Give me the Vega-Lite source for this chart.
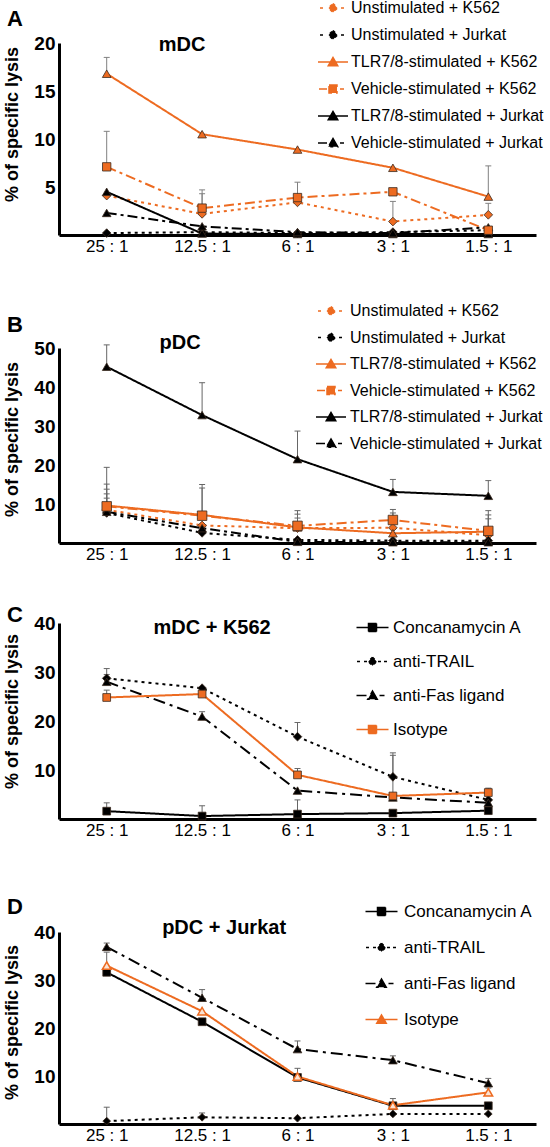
{
  "$schema": "https://vega.github.io/schema/vega-lite/v6.json",
  "padding": {"left": 3, "top": 0, "right": 0, "bottom": 0},
  "background": "white",
  "bounds": "flush",
  "spacing": 0,
  "resolve": {"scale": {"color": "independent", "strokeDash": "independent"}},
  "datasets": {
    "A": [
      {"r": "25 : 1", "s": "Unstimulated + K562", "v": 4.1},
      {"r": "12.5 : 1", "s": "Unstimulated + K562", "v": 2.2, "e": 4.3},
      {"r": "6 : 1", "s": "Unstimulated + K562", "v": 3.4},
      {"r": "3 : 1", "s": "Unstimulated + K562", "v": 1.4, "e": 3.5},
      {"r": "1.5 : 1", "s": "Unstimulated + K562", "v": 2.1, "e": 3.3},
      {"r": "25 : 1", "s": "Unstimulated + Jurkat", "v": 0.2},
      {"r": "12.5 : 1", "s": "Unstimulated + Jurkat", "v": 0.3},
      {"r": "6 : 1", "s": "Unstimulated + Jurkat", "v": 0.2},
      {"r": "3 : 1", "s": "Unstimulated + Jurkat", "v": 0.3},
      {"r": "1.5 : 1", "s": "Unstimulated + Jurkat", "v": 0.5},
      {"r": "25 : 1", "s": "TLR7/8-stimulated + K562", "v": 16.8, "e": 18.5},
      {"r": "12.5 : 1", "s": "TLR7/8-stimulated + K562", "v": 10.5},
      {"r": "6 : 1", "s": "TLR7/8-stimulated + K562", "v": 8.9},
      {"r": "3 : 1", "s": "TLR7/8-stimulated + K562", "v": 7.0},
      {"r": "1.5 : 1", "s": "TLR7/8-stimulated + K562", "v": 4.0, "e": 7.2},
      {"r": "25 : 1", "s": "Vehicle-stimulated + K562", "v": 7.1, "e": 10.8},
      {"r": "12.5 : 1", "s": "Vehicle-stimulated + K562", "v": 2.8, "e": 4.7},
      {"r": "6 : 1", "s": "Vehicle-stimulated + K562", "v": 3.9, "e": 5.5},
      {"r": "3 : 1", "s": "Vehicle-stimulated + K562", "v": 4.5},
      {"r": "1.5 : 1", "s": "Vehicle-stimulated + K562", "v": 0.5},
      {"r": "25 : 1", "s": "TLR7/8-stimulated + Jurkat", "v": 4.5},
      {"r": "12.5 : 1", "s": "TLR7/8-stimulated + Jurkat", "v": 0.15},
      {"r": "6 : 1", "s": "TLR7/8-stimulated + Jurkat", "v": 0.1},
      {"r": "3 : 1", "s": "TLR7/8-stimulated + Jurkat", "v": 0.1},
      {"r": "1.5 : 1", "s": "TLR7/8-stimulated + Jurkat", "v": 0.1},
      {"r": "25 : 1", "s": "Vehicle-stimulated + Jurkat", "v": 2.3},
      {"r": "12.5 : 1", "s": "Vehicle-stimulated + Jurkat", "v": 0.9},
      {"r": "6 : 1", "s": "Vehicle-stimulated + Jurkat", "v": 0.3},
      {"r": "3 : 1", "s": "Vehicle-stimulated + Jurkat", "v": 0.2},
      {"r": "1.5 : 1", "s": "Vehicle-stimulated + Jurkat", "v": 0.8}
    ],
    "B": [
      {"r": "25 : 1", "s": "Unstimulated + K562", "v": 8.5, "e": 13.8},
      {"r": "12.5 : 1", "s": "Unstimulated + K562", "v": 4.5},
      {"r": "6 : 1", "s": "Unstimulated + K562", "v": 3.8, "e": 6.4},
      {"r": "3 : 1", "s": "Unstimulated + K562", "v": 3.9, "e": 7.7},
      {"r": "1.5 : 1", "s": "Unstimulated + K562", "v": 2.0, "e": 6.2},
      {"r": "25 : 1", "s": "Unstimulated + Jurkat", "v": 7.7, "e": 12.6},
      {"r": "12.5 : 1", "s": "Unstimulated + Jurkat", "v": 2.6},
      {"r": "6 : 1", "s": "Unstimulated + Jurkat", "v": 0.8},
      {"r": "3 : 1", "s": "Unstimulated + Jurkat", "v": 0.6},
      {"r": "1.5 : 1", "s": "Unstimulated + Jurkat", "v": 0.6},
      {"r": "25 : 1", "s": "TLR7/8-stimulated + K562", "v": 9.6, "e": 15.1},
      {"r": "12.5 : 1", "s": "TLR7/8-stimulated + K562", "v": 7.2, "e": 15.0},
      {"r": "6 : 1", "s": "TLR7/8-stimulated + K562", "v": 4.0, "e": 7.4},
      {"r": "3 : 1", "s": "TLR7/8-stimulated + K562", "v": 2.5},
      {"r": "1.5 : 1", "s": "TLR7/8-stimulated + K562", "v": 2.9, "e": 7.2},
      {"r": "25 : 1", "s": "Vehicle-stimulated + K562", "v": 9.4, "e": 19.4},
      {"r": "12.5 : 1", "s": "Vehicle-stimulated + K562", "v": 7.0, "e": 14.1},
      {"r": "6 : 1", "s": "Vehicle-stimulated + K562", "v": 4.4, "e": 8.3},
      {"r": "3 : 1", "s": "Vehicle-stimulated + K562", "v": 5.9, "e": 8.6},
      {"r": "1.5 : 1", "s": "Vehicle-stimulated + K562", "v": 3.1, "e": 8.3},
      {"r": "25 : 1", "s": "TLR7/8-stimulated + Jurkat", "v": 45.2, "e": 50.8},
      {"r": "12.5 : 1", "s": "TLR7/8-stimulated + Jurkat", "v": 32.8, "e": 41.1},
      {"r": "6 : 1", "s": "TLR7/8-stimulated + Jurkat", "v": 21.5, "e": 28.7},
      {"r": "3 : 1", "s": "TLR7/8-stimulated + Jurkat", "v": 13.1, "e": 16.3},
      {"r": "1.5 : 1", "s": "TLR7/8-stimulated + Jurkat", "v": 12.1, "e": 16.0},
      {"r": "25 : 1", "s": "Vehicle-stimulated + Jurkat", "v": 8.0, "e": 11.5},
      {"r": "12.5 : 1", "s": "Vehicle-stimulated + Jurkat", "v": 3.8},
      {"r": "6 : 1", "s": "Vehicle-stimulated + Jurkat", "v": 0.3},
      {"r": "3 : 1", "s": "Vehicle-stimulated + Jurkat", "v": 0.2},
      {"r": "1.5 : 1", "s": "Vehicle-stimulated + Jurkat", "v": 0.2}
    ],
    "C": [
      {"r": "25 : 1", "s": "Concanamycin A", "v": 1.6, "e": 3.3},
      {"r": "12.5 : 1", "s": "Concanamycin A", "v": 0.6, "e": 2.7},
      {"r": "6 : 1", "s": "Concanamycin A", "v": 1.0, "e": 3.9},
      {"r": "3 : 1", "s": "Concanamycin A", "v": 1.2},
      {"r": "1.5 : 1", "s": "Concanamycin A", "v": 1.7},
      {"r": "25 : 1", "s": "anti-TRAIL", "v": 28.7, "e": 30.7},
      {"r": "12.5 : 1", "s": "anti-TRAIL", "v": 26.7},
      {"r": "6 : 1", "s": "anti-TRAIL", "v": 16.8, "e": 19.7},
      {"r": "3 : 1", "s": "anti-TRAIL", "v": 8.6, "e": 13.5},
      {"r": "1.5 : 1", "s": "anti-TRAIL", "v": 3.9},
      {"r": "25 : 1", "s": "anti-Fas ligand", "v": 28.0, "e": 29.5},
      {"r": "12.5 : 1", "s": "anti-Fas ligand", "v": 20.9, "e": 21.9},
      {"r": "6 : 1", "s": "anti-Fas ligand", "v": 5.8},
      {"r": "3 : 1", "s": "anti-Fas ligand", "v": 4.4, "e": 13.0},
      {"r": "1.5 : 1", "s": "anti-Fas ligand", "v": 3.3},
      {"r": "25 : 1", "s": "Isotype", "v": 24.8, "e": 26.3},
      {"r": "12.5 : 1", "s": "Isotype", "v": 25.5},
      {"r": "6 : 1", "s": "Isotype", "v": 9.0, "e": 10.3},
      {"r": "3 : 1", "s": "Isotype", "v": 4.7},
      {"r": "1.5 : 1", "s": "Isotype", "v": 5.4, "e": 6.3}
    ],
    "D": [
      {"r": "25 : 1", "s": "Concanamycin A", "v": 31.6},
      {"r": "12.5 : 1", "s": "Concanamycin A", "v": 21.3},
      {"r": "6 : 1", "s": "Concanamycin A", "v": 9.7},
      {"r": "3 : 1", "s": "Concanamycin A", "v": 3.8},
      {"r": "1.5 : 1", "s": "Concanamycin A", "v": 3.8},
      {"r": "25 : 1", "s": "anti-TRAIL", "v": 0.6, "e": 3.5},
      {"r": "12.5 : 1", "s": "anti-TRAIL", "v": 1.4, "e": 2.3},
      {"r": "6 : 1", "s": "anti-TRAIL", "v": 1.2},
      {"r": "3 : 1", "s": "anti-TRAIL", "v": 2.1},
      {"r": "1.5 : 1", "s": "anti-TRAIL", "v": 2.1},
      {"r": "25 : 1", "s": "anti-Fas ligand", "v": 36.9, "e": 37.7},
      {"r": "12.5 : 1", "s": "anti-Fas ligand", "v": 26.3, "e": 28.0},
      {"r": "6 : 1", "s": "anti-Fas ligand", "v": 15.6, "e": 17.3},
      {"r": "3 : 1", "s": "anti-Fas ligand", "v": 13.3, "e": 14.2},
      {"r": "1.5 : 1", "s": "anti-Fas ligand", "v": 8.5, "e": 9.5},
      {"r": "25 : 1", "s": "Isotype", "v": 33.0, "e": 35.8},
      {"r": "12.5 : 1", "s": "Isotype", "v": 23.5},
      {"r": "6 : 1", "s": "Isotype", "v": 9.9, "e": 11.6},
      {"r": "3 : 1", "s": "Isotype", "v": 3.9, "e": 5.3},
      {"r": "1.5 : 1", "s": "Isotype", "v": 6.6, "e": 7.5}
    ]
  },
  "vconcat": [
    {
      "width": 477, "height": 192,
      "title": {"text": "A", "dx": -52, "offset": -31},
      "data": {"name": "A"},
      "encoding": {
        "x": {"field": "r", "type": "ordinal", "title": null, "scale": {"type": "point", "padding": 0.5, "domain": ["25 : 1", "12.5 : 1", "6 : 1", "3 : 1", "1.5 : 1"]}},
        "y": {"field": "v", "type": "quantitative", "title": "% of specific lysis", "scale": {"domain": [0, 20], "nice": false}, "axis": {"values": [5, 10, 15, 20], "titleY": 81}}
      },
      "layer": [
        {"transform": [{"filter": "datum.e != null"}], "mark": {"type": "rule", "color": "#808080", "strokeWidth": 1}, "encoding": {"y2": {"field": "e"}}},
        {"transform": [{"filter": "datum.e != null"}], "mark": {"type": "tick", "color": "#808080", "size": 6, "thickness": 1, "opacity": 1}, "encoding": {"y": {"field": "e", "type": "quantitative"}}},
        {"mark": {"type": "line", "strokeWidth": 2}, "encoding": {
          "color": {"field": "s", "type": "nominal", "scale": {"domain": ["Unstimulated + K562", "Unstimulated + Jurkat", "TLR7/8-stimulated + K562", "Vehicle-stimulated + K562", "TLR7/8-stimulated + Jurkat", "Vehicle-stimulated + Jurkat"], "range": ["#ED6B21", "black", "#ED6B21", "#ED6B21", "black", "black"]},
            "legend": {"orient": "none", "legendX": 266, "legendY": -43, "title": null, "labelFontSize": 16, "labelOffset": 10, "rowPadding": 11, "labelLimit": 400, "symbolSize": 100,
              "encode": {"symbols": {"update": {
                "shape": {"signal": "['M-2.6,0H-1.6M1.6,0H2.6M0,-0.9L0.9,0L0,0.9L-0.9,0Z','M-2.6,0H-1.6M1.6,0H2.6M0,-0.9L0.9,0L0,0.9L-0.9,0Z','M-3,0H3M0,-0.9L0.95,0.75L-0.95,0.75Z','M-2.8,0H-1.2M1.4,0H2.2M-0.8,-0.8H0.8V0.8H-0.8Z','M-3,0H3M0,-0.9L0.95,0.75L-0.95,0.75Z','M-3,0H-1.2M1.4,0H2.2M0,-0.9L0.95,0.75L-0.95,0.75Z'][indexof(['Unstimulated + K562','Unstimulated + Jurkat','TLR7/8-stimulated + K562','Vehicle-stimulated + K562','TLR7/8-stimulated + Jurkat','Vehicle-stimulated + Jurkat'], datum.value)]"},
                "fill": {"signal": "['#ED6B21','black','#ED6B21','#ED6B21','black','black'][indexof(['Unstimulated + K562','Unstimulated + Jurkat','TLR7/8-stimulated + K562','Vehicle-stimulated + K562','TLR7/8-stimulated + Jurkat','Vehicle-stimulated + Jurkat'], datum.value)]"},
                "strokeDash": {"value": [1, 0]}, "strokeWidth": {"value": 1.5}, "size": {"value": 100}, "opacity": {"value": 1}}}}}},
          "strokeDash": {"field": "s", "type": "nominal", "legend": null, "scale": {"domain": ["Unstimulated + K562", "Unstimulated + Jurkat", "TLR7/8-stimulated + K562", "Vehicle-stimulated + K562", "TLR7/8-stimulated + Jurkat", "Vehicle-stimulated + Jurkat"], "range": [[3, 4], [3, 4], [1, 0], [10, 4, 3, 4], [1, 0], [10, 4, 3, 4]]}},
          "order": {"value": null}}},
        {"transform": [{"filter": {"field": "s", "oneOf": ["Unstimulated + K562", "Unstimulated + Jurkat"]}}], "mark": {"type": "point", "shape": "diamond", "filled": true, "size": 75, "opacity": 1, "stroke": "#3b2b20", "strokeWidth": 0.8}, "encoding": {"color": {"field": "s", "type": "nominal", "legend": null}}},
        {"transform": [{"filter": {"field": "s", "oneOf": ["TLR7/8-stimulated + K562", "TLR7/8-stimulated + Jurkat", "Vehicle-stimulated + Jurkat"]}}], "mark": {"type": "point", "shape": "triangle-up", "filled": true, "size": 75, "opacity": 1, "stroke": "#3b2b20", "strokeWidth": 0.8}, "encoding": {"color": {"field": "s", "type": "nominal", "legend": null}}},
        {"transform": [{"filter": {"field": "s", "oneOf": ["Vehicle-stimulated + K562"]}}], "mark": {"type": "point", "shape": "square", "filled": true, "size": 70, "opacity": 1, "stroke": "#3b2b20", "strokeWidth": 0.8}, "encoding": {"color": {"field": "s", "type": "nominal", "legend": null}}},
        {"transform": [{"filter": "datum.r === '25 : 1' && datum.s === 'Unstimulated + K562'"}], "mark": {"type": "text", "text": "mDC", "fontSize": 20, "fontWeight": "bold", "dx": -20, "dy": 2, "baseline": "middle"}, "encoding": {"x": {"datum": "12.5 : 1"}, "y": {"datum": 20}}}
      ]
    },
    {"width": 477, "height": 113, "data": {"values": []}, "mark": "point", "encoding": {}},
    {
      "width": 477, "height": 195,
      "title": {"text": "B", "dx": -52, "offset": -34},
      "data": {"name": "B"},
      "encoding": {
        "x": {"field": "r", "type": "ordinal", "title": null, "scale": {"type": "point", "padding": 0.5, "domain": ["25 : 1", "12.5 : 1", "6 : 1", "3 : 1", "1.5 : 1"]}},
        "y": {"field": "v", "type": "quantitative", "title": "% of specific lysis", "scale": {"domain": [0, 50], "nice": false}, "axis": {"values": [10, 20, 30, 40, 50], "titleY": 91}}
      },
      "layer": [
        {"transform": [{"filter": "datum.e != null"}], "mark": {"type": "rule", "color": "#666666", "strokeWidth": 1}, "encoding": {"y2": {"field": "e"}}},
        {"transform": [{"filter": "datum.e != null"}], "mark": {"type": "tick", "color": "#666666", "size": 6, "thickness": 1, "opacity": 1}, "encoding": {"y": {"field": "e", "type": "quantitative"}}},
        {"mark": {"type": "line", "strokeWidth": 2}, "encoding": {
          "color": {"field": "s", "type": "nominal", "scale": {"domain": ["Unstimulated + K562", "Unstimulated + Jurkat", "TLR7/8-stimulated + K562", "Vehicle-stimulated + K562", "TLR7/8-stimulated + Jurkat", "Vehicle-stimulated + Jurkat"], "range": ["#ED6B21", "black", "#ED6B21", "#ED6B21", "black", "black"]},
            "legend": {"orient": "none", "legendX": 264, "legendY": -45, "title": null, "labelFontSize": 16, "labelOffset": 11, "rowPadding": 10.5, "labelLimit": 400, "symbolSize": 100,
              "encode": {"symbols": {"update": {
                "shape": {"signal": "['M-2.6,0H-1.6M1.6,0H2.6M0,-0.9L0.9,0L0,0.9L-0.9,0Z','M-2.6,0H-1.6M1.6,0H2.6M0,-0.9L0.9,0L0,0.9L-0.9,0Z','M-3,0H3M0,-0.9L0.95,0.75L-0.95,0.75Z','M-2.8,0H-1.2M1.4,0H2.2M-0.8,-0.8H0.8V0.8H-0.8Z','M-3,0H3M0,-0.9L0.95,0.75L-0.95,0.75Z','M-3,0H-1.2M1.4,0H2.2M0,-0.9L0.95,0.75L-0.95,0.75Z'][indexof(['Unstimulated + K562','Unstimulated + Jurkat','TLR7/8-stimulated + K562','Vehicle-stimulated + K562','TLR7/8-stimulated + Jurkat','Vehicle-stimulated + Jurkat'], datum.value)]"},
                "fill": {"signal": "['#ED6B21','black','#ED6B21','#ED6B21','black','black'][indexof(['Unstimulated + K562','Unstimulated + Jurkat','TLR7/8-stimulated + K562','Vehicle-stimulated + K562','TLR7/8-stimulated + Jurkat','Vehicle-stimulated + Jurkat'], datum.value)]"},
                "strokeDash": {"value": [1, 0]}, "strokeWidth": {"value": 1.5}, "size": {"value": 100}, "opacity": {"value": 1}}}}}},
          "strokeDash": {"field": "s", "type": "nominal", "legend": null, "scale": {"domain": ["Unstimulated + K562", "Unstimulated + Jurkat", "TLR7/8-stimulated + K562", "Vehicle-stimulated + K562", "TLR7/8-stimulated + Jurkat", "Vehicle-stimulated + Jurkat"], "range": [[3, 4], [3, 4], [1, 0], [10, 4, 3, 4], [1, 0], [10, 4, 3, 4]]}},
          "order": {"value": null}}},
        {"transform": [{"filter": {"field": "s", "oneOf": ["Unstimulated + K562", "Unstimulated + Jurkat"]}}], "mark": {"type": "point", "shape": "diamond", "filled": true, "size": 75, "opacity": 1, "stroke": "#3b2b20", "strokeWidth": 0.8}, "encoding": {"color": {"field": "s", "type": "nominal", "legend": null}}},
        {"transform": [{"filter": {"field": "s", "oneOf": ["TLR7/8-stimulated + K562", "TLR7/8-stimulated + Jurkat", "Vehicle-stimulated + Jurkat"]}}], "mark": {"type": "point", "shape": "triangle-up", "filled": true, "size": 75, "opacity": 1, "stroke": "#3b2b20", "strokeWidth": 0.8}, "encoding": {"color": {"field": "s", "type": "nominal", "legend": null}}},
        {"transform": [{"filter": {"field": "s", "oneOf": ["Vehicle-stimulated + K562"]}}], "mark": {"type": "point", "shape": "square", "filled": true, "size": 90, "opacity": 1, "stroke": "#3b2b20", "strokeWidth": 0.8}, "encoding": {"color": {"field": "s", "type": "nominal", "legend": null}}},
        {"transform": [{"filter": "datum.r === '25 : 1' && datum.s === 'Unstimulated + K562'"}], "mark": {"type": "text", "text": "pDC", "fontSize": 20, "fontWeight": "bold", "dx": -22, "dy": -5, "baseline": "middle"}, "encoding": {"x": {"datum": "12.5 : 1"}, "y": {"datum": 50}}}
      ]
    },
    {"width": 477, "height": 80, "data": {"values": []}, "mark": "point", "encoding": {}},
    {
      "width": 477, "height": 196,
      "title": {"text": "C", "dx": -52, "offset": -13},
      "data": {"name": "C"},
      "encoding": {
        "x": {"field": "r", "type": "ordinal", "title": null, "scale": {"type": "point", "padding": 0.5, "domain": ["25 : 1", "12.5 : 1", "6 : 1", "3 : 1", "1.5 : 1"]}},
        "y": {"field": "v", "type": "quantitative", "title": "% of specific lysis", "scale": {"domain": [0, 40], "nice": false}, "axis": {"values": [10, 20, 30, 40], "titleY": 88}}
      },
      "layer": [
        {"transform": [{"filter": "datum.e != null"}], "mark": {"type": "rule", "color": "#666666", "strokeWidth": 1}, "encoding": {"y2": {"field": "e"}}},
        {"transform": [{"filter": "datum.e != null"}], "mark": {"type": "tick", "color": "#666666", "size": 6, "thickness": 1, "opacity": 1}, "encoding": {"y": {"field": "e", "type": "quantitative"}}},
        {"mark": {"type": "line", "strokeWidth": 2}, "encoding": {
          "color": {"field": "s", "type": "nominal", "scale": {"domain": ["Concanamycin A", "anti-TRAIL", "anti-Fas ligand", "Isotype"], "range": ["black", "black", "black", "#ED6B21"]},
            "legend": {"orient": "none", "legendX": 305, "legendY": -4, "title": null, "labelFontSize": 17, "labelOffset": 12, "rowPadding": 16, "labelLimit": 400, "symbolSize": 100,
              "encode": {"symbols": {"update": {
                "shape": {"signal": "['M-3.2,0H3.2M-0.8,-0.8H0.8V0.8H-0.8Z','M-3.1,0H-2.3M-1.7,0H-1.1M1.1,0H1.7M2.3,0H3.1M0,-0.85L0.85,0L0,0.85L-0.85,0Z','M-3.2,0H-1.2M1.4,0H2.4M0,-0.9L0.95,0.75L-0.95,0.75Z','M-3.2,0H3.2M-0.8,-0.8H0.8V0.8H-0.8Z'][indexof(['Concanamycin A','anti-TRAIL','anti-Fas ligand','Isotype'], datum.value)]"},
                "fill": {"signal": "['black','black','black','#ED6B21'][indexof(['Concanamycin A','anti-TRAIL','anti-Fas ligand','Isotype'], datum.value)]"},
                "strokeDash": {"value": [1, 0]}, "strokeWidth": {"value": 1.5}, "size": {"value": 100}, "opacity": {"value": 1}}}}}},
          "strokeDash": {"field": "s", "type": "nominal", "legend": null, "scale": {"domain": ["Concanamycin A", "anti-TRAIL", "anti-Fas ligand", "Isotype"], "range": [[1, 0], [3, 4], [12, 5, 3, 5], [1, 0]]}},
          "order": {"value": null}}},
        {"transform": [{"filter": {"field": "s", "oneOf": ["anti-TRAIL"]}}], "mark": {"type": "point", "shape": "diamond", "filled": true, "size": 75, "opacity": 1, "stroke": "#3b2b20", "strokeWidth": 0.8}, "encoding": {"color": {"field": "s", "type": "nominal", "legend": null}}},
        {"transform": [{"filter": {"field": "s", "oneOf": ["anti-Fas ligand"]}}], "mark": {"type": "point", "shape": "triangle-up", "filled": true, "size": 75, "opacity": 1, "stroke": "#3b2b20", "strokeWidth": 0.8}, "encoding": {"color": {"field": "s", "type": "nominal", "legend": null}}},
        {"transform": [{"filter": {"field": "s", "oneOf": ["Concanamycin A", "Isotype"]}}], "mark": {"type": "point", "shape": "square", "filled": true, "size": 60, "opacity": 1, "stroke": "#3b2b20", "strokeWidth": 0.8}, "encoding": {"color": {"field": "s", "type": "nominal", "legend": null}}},
        {"transform": [{"filter": "datum.r === '25 : 1' && datum.s === 'Isotype'"}], "mark": {"type": "text", "text": "mDC + K562", "fontSize": 20, "fontWeight": "bold", "dx": 10, "dy": 5, "baseline": "middle"}, "encoding": {"x": {"datum": "12.5 : 1"}, "y": {"datum": 40}}}
      ]
    },
    {"width": 477, "height": 113, "data": {"values": []}, "mark": "point", "encoding": {}},
    {
      "width": 477, "height": 192,
      "title": {"text": "D", "dx": -52, "offset": -16},
      "data": {"name": "D"},
      "encoding": {
        "x": {"field": "r", "type": "ordinal", "title": null, "scale": {"type": "point", "padding": 0.5, "domain": ["25 : 1", "12.5 : 1", "6 : 1", "3 : 1", "1.5 : 1"]}},
        "y": {"field": "v", "type": "quantitative", "title": "% of specific lysis", "scale": {"domain": [0, 40], "nice": false}, "axis": {"values": [10, 20, 30, 40], "titleY": 90}}
      },
      "layer": [
        {"transform": [{"filter": "datum.e != null"}], "mark": {"type": "rule", "color": "#666666", "strokeWidth": 1}, "encoding": {"y2": {"field": "e"}}},
        {"transform": [{"filter": "datum.e != null"}], "mark": {"type": "tick", "color": "#666666", "size": 6, "thickness": 1, "opacity": 1}, "encoding": {"y": {"field": "e", "type": "quantitative"}}},
        {"mark": {"type": "line", "strokeWidth": 2}, "encoding": {
          "color": {"field": "s", "type": "nominal", "scale": {"domain": ["Concanamycin A", "anti-TRAIL", "anti-Fas ligand", "Isotype"], "range": ["black", "black", "black", "#ED6B21"]},
            "legend": {"orient": "none", "legendX": 314, "legendY": -29, "title": null, "labelFontSize": 17, "labelOffset": 14, "rowPadding": 18, "labelLimit": 400, "symbolSize": 100,
              "encode": {"symbols": {"update": {
                "shape": {"signal": "['M-3.2,0H3.2M-0.8,-0.8H0.8V0.8H-0.8Z','M-3.1,0H-2.3M-1.7,0H-1.1M1.1,0H1.7M2.3,0H3.1M0,-0.85L0.85,0L0,0.85L-0.85,0Z','M-3.2,0H-1.2M1.4,0H2.4M0,-0.9L0.95,0.75L-0.95,0.75Z','M-3.2,0H-0.52M0.52,0H3.2M0,-0.9L0.95,0.75L-0.95,0.75Z'][indexof(['Concanamycin A','anti-TRAIL','anti-Fas ligand','Isotype'], datum.value)]"},
                "fill": {"signal": "['black','black','black','#fbe3d3'][indexof(['Concanamycin A','anti-TRAIL','anti-Fas ligand','Isotype'], datum.value)]"},
                "strokeDash": {"value": [1, 0]}, "strokeWidth": {"value": 1.5}, "size": {"value": 100}, "opacity": {"value": 1}}}}}},
          "strokeDash": {"field": "s", "type": "nominal", "legend": null, "scale": {"domain": ["Concanamycin A", "anti-TRAIL", "anti-Fas ligand", "Isotype"], "range": [[1, 0], [3, 4], [12, 5, 3, 5], [1, 0]]}},
          "order": {"value": null}}},
        {"transform": [{"filter": {"field": "s", "oneOf": ["anti-TRAIL"]}}], "mark": {"type": "point", "shape": "diamond", "filled": true, "size": 60, "opacity": 1, "stroke": "#3b2b20", "strokeWidth": 0.8}, "encoding": {"color": {"field": "s", "type": "nominal", "legend": null}}},
        {"transform": [{"filter": {"field": "s", "oneOf": ["anti-Fas ligand"]}}], "mark": {"type": "point", "shape": "triangle-up", "filled": true, "size": 75, "opacity": 1, "stroke": "#3b2b20", "strokeWidth": 0.8}, "encoding": {"color": {"field": "s", "type": "nominal", "legend": null}}},
        {"transform": [{"filter": {"field": "s", "oneOf": ["Concanamycin A"]}}], "mark": {"type": "point", "shape": "square", "filled": true, "size": 60, "opacity": 1, "stroke": "#3b2b20", "strokeWidth": 0.8}, "encoding": {"color": {"field": "s", "type": "nominal", "legend": null}}},
        {"transform": [{"filter": {"field": "s", "oneOf": ["Isotype"]}}], "mark": {"type": "point", "shape": "triangle-up", "filled": false, "fill": "#fbe3d3", "size": 75, "opacity": 1, "stroke": "#ED6B21", "strokeWidth": 1.5}},
        {"transform": [{"filter": "datum.r === '25 : 1' && datum.s === 'Isotype'"}], "mark": {"type": "text", "text": "pDC + Jurkat", "fontSize": 20, "fontWeight": "bold", "dx": 22, "dy": -4, "baseline": "middle"}, "encoding": {"x": {"datum": "12.5 : 1"}, "y": {"datum": 40}}}
      ]
    }
  ],
  "config": {
    "font": "Liberation Sans",
    "view": {"stroke": null},
    "axis": {"grid": false, "ticks": false, "domainColor": "black", "domainWidth": 3, "labelColor": "black", "titleColor": "black", "labelFont": "Liberation Sans", "titleFont": "Liberation Sans"},
    "axisX": {"labelFontSize": 17, "labelAngle": 0, "labelPadding": 3},
    "axisY": {"labelFontSize": 19, "labelFontWeight": "bold", "labelPadding": 4, "titleFontSize": 18, "titleFontWeight": "bold", "titlePadding": 12},
    "legend": {"labelFont": "Liberation Sans", "labelColor": "black"},
    "title": {"font": "Liberation Sans", "fontSize": 22, "fontWeight": "bold", "anchor": "start", "frame": "group", "color": "black"}
  }
}
